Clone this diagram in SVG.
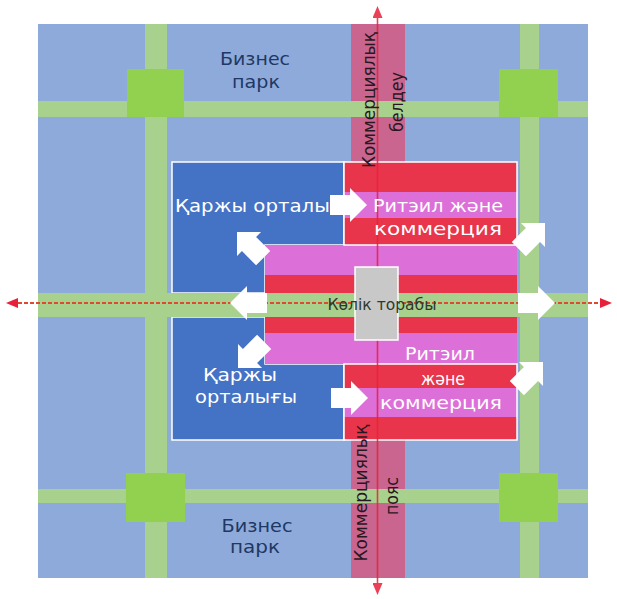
<svg xmlns="http://www.w3.org/2000/svg" width="617" height="599" viewBox="0 0 617 599">
<style>
.bg{fill:#8eaadb}
.road{fill:#a9d18e}
.sq{fill:#92d050}
.band{fill:#c9658e}
.blue{fill:#4472c4;stroke:#fff;stroke-width:1.5}
.red{fill:#e8354c}
.pink{fill:#dd70d8}
.box{fill:none;stroke:#fff;stroke-width:1.5}
.wt{font-family:"DejaVu Sans","Liberation Sans",sans-serif;font-size:18px;fill:#fff}
.nv{font-family:"DejaVu Sans","Liberation Sans",sans-serif;font-size:17px;fill:#1f3864}
.vt{font-family:"DejaVu Sans","Liberation Sans",sans-serif;font-size:17px;fill:#2a1820}
.hub{font-family:"DejaVu Sans","Liberation Sans",sans-serif;font-size:15px;fill:#2e3a2a}
.ax{stroke:#e8203a;stroke-width:1.6;fill:none}
.axd{stroke:#e0482f;stroke-width:2.2;stroke-dasharray:4 2;fill:none}
.ba{fill:#fff}
</style>
<defs>
<marker id="rh" markerUnits="userSpaceOnUse" markerWidth="12" markerHeight="10" viewBox="0 0 12 10" refX="0" refY="5" orient="auto-start-reverse">
<path d="M0,0 L12,5 L0,10 Z" fill="#e8203a"/>
</marker>
<path id="barrow" d="M0,0 L-17,-17 L-17,-10 L-37,-10 L-37,10 L-17,10 L-17,17 Z"/>
</defs>

<g id="background">
<rect class="bg" x="38" y="24" width="550" height="554"/>
</g>

<g id="commercial-band">
<rect class="band" x="351" y="24" width="54" height="140"/>
<rect class="band" x="351" y="438" width="54" height="140"/>
</g>

<g id="roads">
<rect class="road" x="145" y="24" width="22" height="554"/>
<rect class="road" x="520" y="24" width="19" height="554"/>
<rect class="road" x="38" y="101" width="550" height="16"/>
<rect class="road" x="38" y="489" width="550" height="14"/>
</g>

<g id="squares">
<rect class="sq" x="127" y="69" width="57" height="48"/>
<rect class="sq" x="499" y="69" width="59" height="48"/>
<rect class="sq" x="126" y="473" width="59" height="49"/>
<rect class="sq" x="499" y="473" width="59" height="49"/>
</g>

<g id="finance-upper">
<path class="blue" d="M172,162 H344 V245 H265 V293 H172 Z"/>
</g>
<g id="finance-lower">
<path class="blue" d="M172,317 H265 V364 H344 V440 H172 Z"/>
</g>

<g id="center-block">
<rect class="pink" x="265" y="245" width="252" height="30"/>
<rect class="red" x="265" y="275" width="252" height="18"/>
<rect class="red" x="265" y="317" width="252" height="16"/>
<rect class="pink" x="265" y="333" width="252" height="31"/>
</g>

<g id="retail-upper">
<rect class="red" x="344" y="162" width="173" height="30"/>
<rect class="pink" x="344" y="192" width="173" height="26"/>
<rect class="red" x="344" y="218" width="173" height="27"/>
<rect class="box" x="344" y="162" width="173" height="83"/>
</g>

<g id="retail-lower">
<rect class="red" x="344" y="364" width="173" height="24"/>
<rect class="pink" x="344" y="388" width="173" height="29"/>
<rect class="red" x="344" y="417" width="173" height="23"/>
<rect class="box" x="344" y="364" width="173" height="76"/>
</g>

<g id="main-road">
<rect class="road" x="38" y="293" width="550" height="24"/>
</g>

<g id="connectors">
<line class="ax" x1="377.5" y1="18" x2="377.5" y2="583" marker-start="url(#rh)" marker-end="url(#rh)" opacity="0.85"/>
<line class="axd" x1="18" y1="303" x2="600" y2="303" marker-start="url(#rh)" marker-end="url(#rh)"/>
</g>

<g id="hub">
<rect x="355" y="267" width="43" height="73" fill="#c8c8c8" stroke="#fff" stroke-width="1.5"/>
<text class="hub" x="382" y="310" text-anchor="middle" textLength="109" lengthAdjust="spacingAndGlyphs">Көлік торабы</text>
</g>

<g id="labels">
<text class="nv" x="255" y="65" text-anchor="middle" textLength="70" lengthAdjust="spacingAndGlyphs">Бизнес</text>
<text class="nv" x="256" y="88" text-anchor="middle" textLength="48" lengthAdjust="spacingAndGlyphs">парк</text>
<text class="nv" x="257" y="532" text-anchor="middle" textLength="71" lengthAdjust="spacingAndGlyphs">Бизнес</text>
<text class="nv" x="255" y="553" text-anchor="middle" textLength="50" lengthAdjust="spacingAndGlyphs">парк</text>

<text class="wt" x="175" y="212" textLength="182" lengthAdjust="spacingAndGlyphs">Қаржы орталығы</text>
<text class="wt" x="438" y="212" text-anchor="middle" textLength="130" lengthAdjust="spacingAndGlyphs">Ритэил және</text>
<text class="wt" x="438" y="235" text-anchor="middle" textLength="128" lengthAdjust="spacingAndGlyphs">коммерция</text>

<text class="wt" x="240" y="381" text-anchor="middle" textLength="74" lengthAdjust="spacingAndGlyphs">Қаржы</text>
<text class="wt" x="246" y="403" text-anchor="middle" textLength="102" lengthAdjust="spacingAndGlyphs">орталығы</text>
<text class="wt" x="440" y="360" text-anchor="middle" textLength="70" lengthAdjust="spacingAndGlyphs">Ритэил</text>
<text class="wt" x="443" y="385" text-anchor="middle" textLength="44" lengthAdjust="spacingAndGlyphs">және</text>
<text class="wt" x="441" y="409" text-anchor="middle" textLength="122" lengthAdjust="spacingAndGlyphs">коммерция</text>

<text class="vt" transform="translate(375,100) rotate(-90)" text-anchor="middle" textLength="136" lengthAdjust="spacingAndGlyphs">Коммерциялық</text>
<text class="vt" transform="translate(403,102) rotate(-90)" text-anchor="middle" textLength="60" lengthAdjust="spacingAndGlyphs">белдеу</text>
<text class="vt" transform="translate(367,493) rotate(-90)" text-anchor="middle" textLength="137" lengthAdjust="spacingAndGlyphs">Коммерциялық</text>
<text class="vt" transform="translate(398,496) rotate(-90)" text-anchor="middle" textLength="38" lengthAdjust="spacingAndGlyphs">пояс</text>
</g>

<g id="flow-arrows" class="ba">
<use href="#barrow" transform="translate(367,205)"/>
<use href="#barrow" transform="translate(368,398)"/>
<use href="#barrow" transform="translate(230,303) rotate(180)"/>
<use href="#barrow" transform="translate(555,303)"/>
<use href="#barrow" transform="translate(237,232) rotate(-135)"/>
<use href="#barrow" transform="translate(545,223) rotate(-45)"/>
<use href="#barrow" transform="translate(238,368) rotate(135)"/>
<use href="#barrow" transform="translate(543,362) rotate(-45)"/>
</g>
</svg>
